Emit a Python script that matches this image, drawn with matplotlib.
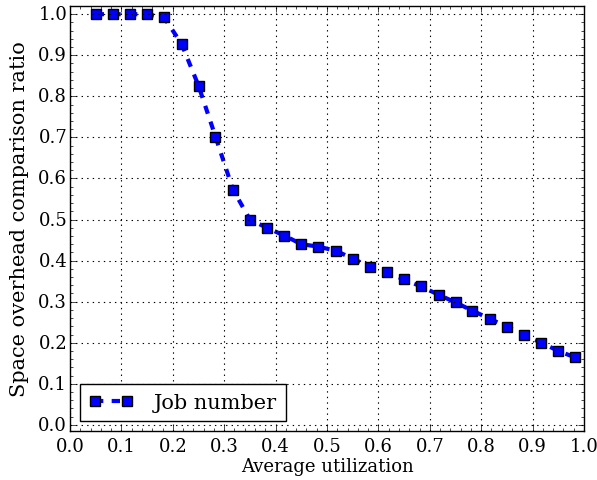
import matplotlib
matplotlib.use('Agg')
import matplotlib.pyplot as plt
from matplotlib.ticker import MultipleLocator, AutoMinorLocator

plt.style.use('classic')
plt.rcParams['font.family'] = ['DejaVu Serif']

utilization = [0.050, 0.083, 0.117, 0.150, 0.183, 0.217, 0.250, 0.283, 0.317,
               0.350, 0.383, 0.417, 0.450, 0.483, 0.517, 0.550, 0.583, 0.617,
               0.650, 0.683, 0.717, 0.750, 0.783, 0.817, 0.850, 0.883, 0.917,
               0.950, 0.983]
ratio = [1.000, 1.000, 1.000, 1.000, 0.992, 0.928, 0.826, 0.702, 0.573,
         0.500, 0.480, 0.461, 0.440, 0.434, 0.424, 0.405, 0.385, 0.371,
         0.354, 0.337, 0.317, 0.298, 0.278, 0.258, 0.239, 0.219, 0.200,
         0.180, 0.164]

fig = plt.figure(figsize=(5.97, 4.81), dpi=100)
fig.patch.set_facecolor('white')
ax = fig.add_axes([70/597, 49/481, 514/597, 425/481])

ax.plot(utilization, ratio, 'b--', lw=3, marker='s', markersize=7,
        markerfacecolor='#0000ff', markeredgecolor='black', markeredgewidth=1,
        label='Job number')

ax.set_xlim(0, 1.0)
ax.set_ylim(-0.015, 1.02)
ax.xaxis.set_major_locator(MultipleLocator(0.1))
ax.yaxis.set_major_locator(MultipleLocator(0.1))
ax.xaxis.set_minor_locator(AutoMinorLocator(5))
ax.yaxis.set_minor_locator(AutoMinorLocator(5))
ax.grid(True, which='major', color='black', linestyle=':', linewidth=0.8)
ax.tick_params(labelsize=13)
ax.tick_params(axis='y', pad=2)
ax.set_xlabel('Average utilization', fontsize=13, labelpad=2)
ax.set_ylabel('Space overhead comparison ratio', fontsize=15, labelpad=7)

leg = ax.legend(loc='lower left', fontsize=15, numpoints=2, fancybox=False,
                borderaxespad=0.5, handlelength=2.1, handletextpad=1.0,
                borderpad=0.42)

plt.savefig('out.png', dpi=100, facecolor='white')
